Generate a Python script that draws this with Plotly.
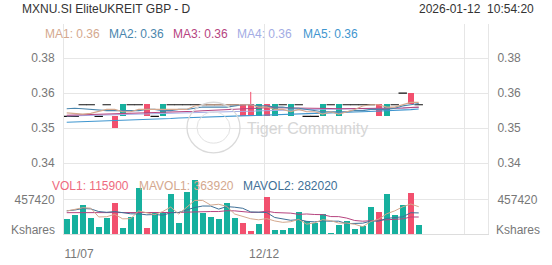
import plotly.graph_objects as go

# ---------------- data ----------------
dates = ["2025-11-07", "2025-11-10", "2025-11-11", "2025-11-12", "2025-11-13", "2025-11-14",
         "2025-11-17", "2025-11-18", "2025-11-19", "2025-11-20", "2025-11-21", "2025-11-24",
         "2025-11-25", "2025-11-26", "2025-11-27", "2025-11-28", "2025-12-01", "2025-12-02",
         "2025-12-03", "2025-12-04", "2025-12-05", "2025-12-08", "2025-12-09", "2025-12-10",
         "2025-12-11", "2025-12-12", "2025-12-15", "2025-12-16", "2025-12-17", "2025-12-18",
         "2025-12-19", "2025-12-22", "2025-12-23", "2025-12-24", "2025-12-26", "2025-12-29",
         "2025-12-30", "2025-12-31", "2026-01-02", "2026-01-05", "2026-01-06", "2026-01-07",
         "2026-01-08", "2026-01-09", "2026-01-12"]

opens = [0.355, 0.355, 0.36, 0.36, 0.355, 0.36, 0.35, 0.36, 0.36, 0.36, 0.355, 0.355, 0.36, 0.36, 0.36,
         0.36, 0.36, 0.36, 0.36, 0.36, 0.36, 0.36, 0.355, 0.355, 0.36, 0.355, 0.36, 0.36, 0.36, 0.36,
         0.355, 0.355, 0.36, 0.36, 0.36, 0.36, 0.36, 0.36, 0.36, 0.355, 0.36, 0.36, 0.365, 0.36, 0.36]
closes = [0.355, 0.355, 0.36, 0.36, 0.355, 0.36, 0.355, 0.355, 0.36, 0.36, 0.36, 0.355, 0.355, 0.36, 0.36,
          0.36, 0.36, 0.36, 0.36, 0.36, 0.36, 0.36, 0.36, 0.36, 0.355, 0.36, 0.355, 0.36, 0.355, 0.36,
          0.355, 0.355, 0.355, 0.36, 0.355, 0.36, 0.36, 0.36, 0.36, 0.36, 0.355, 0.36, 0.365, 0.365, 0.36]
highs = [0.355, 0.355, 0.36, 0.36, 0.355, 0.36, 0.355, 0.36, 0.36, 0.36, 0.36, 0.355, 0.36, 0.36, 0.36,
         0.36, 0.36, 0.36, 0.36, 0.36, 0.36, 0.36, 0.36, 0.3655, 0.36, 0.36, 0.36, 0.36, 0.36, 0.36,
         0.355, 0.355, 0.36, 0.36, 0.36, 0.36, 0.36, 0.36, 0.36, 0.36, 0.36, 0.36, 0.365, 0.365, 0.36]
lows = [0.355, 0.355, 0.36, 0.36, 0.355, 0.36, 0.35, 0.355, 0.36, 0.36, 0.355, 0.355, 0.355, 0.36, 0.36,
        0.36, 0.36, 0.36, 0.36, 0.36, 0.36, 0.36, 0.355, 0.355, 0.355, 0.355, 0.355, 0.36, 0.355, 0.36,
        0.355, 0.355, 0.355, 0.36, 0.355, 0.36, 0.36, 0.36, 0.36, 0.355, 0.355, 0.36, 0.365, 0.36, 0.36]

volumes = [201000, 256000, 381000, 214000, 95000, 214000, 410000, 86000, 231000, 605000,
           77000, 295000, 291000, 528000, 144000, 556000, 718000, 284000, 223000, 201000,
           413000, 214000, 150000, 45000, 133000, 492000, 60000, 60000, 86000, 287000,
           179000, 146000, 269000, 18000, 128000, 179000, 64000, 115000, 355000, 287000,
           534000, 252000, 381000, 543000, 115900]

ma1 = [0.3565, 0.3562, 0.356, 0.3563, 0.357, 0.358, 0.358, 0.357, 0.357, 0.358, 0.358, 0.358, 0.358,
       0.358, 0.358, 0.358, 0.3595, 0.36, 0.36, 0.36, 0.36, 0.36, 0.36, 0.36, 0.359, 0.359, 0.358, 0.358,
       0.357, 0.358, 0.357, 0.357, 0.356, 0.357, 0.356, 0.357, 0.358, 0.3595, 0.36, 0.36, 0.359, 0.359,
       0.36, 0.361, 0.361]
ma2 = [0.3583, 0.3585, 0.3583, 0.358, 0.3578, 0.3575, 0.3575, 0.3575, 0.3575, 0.3575, 0.358, 0.358,
       0.3575, 0.3575, 0.358, 0.358, 0.3585, 0.359, 0.359, 0.359, 0.359, 0.3595, 0.36, 0.36, 0.3595,
       0.3595, 0.359, 0.359, 0.3585, 0.3585, 0.358, 0.3575, 0.357, 0.357, 0.357, 0.357, 0.3575, 0.3575,
       0.358, 0.358, 0.358, 0.3585, 0.3595, 0.36, 0.3605]
ma3 = [0.3555, 0.3556, 0.3557, 0.3558, 0.3558, 0.3559, 0.356, 0.356, 0.3561, 0.3562, 0.3563, 0.3564,
       0.3565, 0.3567, 0.3569, 0.357, 0.3572, 0.3574, 0.3576, 0.3578, 0.358, 0.3582, 0.3584, 0.3585,
       0.3586, 0.3587, 0.3587, 0.3587, 0.3586, 0.3586, 0.3585, 0.3585, 0.3584, 0.3584, 0.3583, 0.3583,
       0.3583, 0.3583, 0.3583, 0.3584, 0.3584, 0.3585, 0.3586, 0.3588, 0.359]
ma4 = [0.3552, 0.3553, 0.3553, 0.3555, 0.3556, 0.3557, 0.3558, 0.3558, 0.3559, 0.3561, 0.3561, 0.3562,
       0.3563, 0.3565, 0.3565, 0.3566, 0.3568, 0.3568, 0.3569, 0.3571, 0.3571, 0.3572, 0.3574, 0.3574,
       0.3575, 0.3577, 0.3577, 0.3578, 0.3578, 0.3579, 0.358, 0.358, 0.3581, 0.3581, 0.3582, 0.3582,
       0.3583, 0.3583, 0.3584, 0.3584, 0.3585, 0.3585, 0.3586, 0.3587, 0.3588]
ma5 = [0.3525, 0.3526, 0.3527, 0.3529, 0.353, 0.3531, 0.3532, 0.3534, 0.3535, 0.3536, 0.3537, 0.3539,
       0.354, 0.3541, 0.3543, 0.3544, 0.3545, 0.3547, 0.3548, 0.3549, 0.355, 0.3552, 0.3553, 0.3554,
       0.3556, 0.3557, 0.3558, 0.3559, 0.356, 0.3561, 0.3562, 0.3563, 0.3564, 0.3566, 0.3567, 0.3568,
       0.3569, 0.357, 0.3571, 0.3572, 0.3574, 0.3575, 0.3577, 0.3579, 0.3582]

mavol1 = [307000, 330000, 350000, 345000, 229000, 232000, 263000, 204000, 207000, 309000, 282000,
          259000, 300000, 359000, 267000, 363000, 447000, 446000, 385000, 396000, 368000, 267000,
          240000, 205000, 191000, 207000, 176000, 158000, 166000, 197000, 134000, 152000, 193000,
          180000, 148000, 148000, 132000, 101000, 168000, 200000, 271000, 309000, 362000, 399000, 363920]
mavol2 = [310000, 320000, 340000, 335000, 300000, 290000, 300000, 280000, 270000, 269000, 257000,
          261000, 252000, 283000, 288000, 322000, 353000, 373000, 372000, 332000, 365000, 357000,
          343000, 295000, 294000, 287000, 222000, 199000, 185000, 194000, 171000, 164000, 176000,
          173000, 173000, 141000, 142000, 147000, 174000, 174000, 210000, 220000, 231000, 284000, 282020]
mavol3 = [285000, 285000, 288000, 288000, 285000, 283000, 285000, 283000, 282000, 282000, 280000,
          281000, 283000, 285000, 288000, 292000, 298000, 300000, 300000, 300000, 311000, 309000,
          297000, 289000, 291000, 305000, 287000, 286000, 279000, 263000, 268000, 261000, 259000,
          234000, 233000, 214000, 182000, 173000, 180000, 184000, 190000, 192000, 204000, 228000, 228000]

date_tick_labels = ["11/07", "12/12"]
price_ticks = [0.38, 0.365, 0.35, 0.335]
vol_ticks = [457420]

# ---------------- styling ----------------
W, H = 552, 265
def px(x): return x / W
def py(y): return 1 - y / H

RED = "#F2506E"
TEAL = "#16B09E"
GRID = "#E6E6E6"
AXT = "#777777"
C_MA1, C_MA2, C_MA3, C_MA4, C_MA5 = "#D4A88E", "#4A86AD", "#B6447F", "#A3ACE4", "#3F96CF"
C_MV2 = "#3E6F96"
FONT = "Liberation Sans, Arial, sans-serif"

n = len(dates)
xs = list(range(n))
GRID_OFF = -0.33
grid_pos = [GRID_OFF, 25 + GRID_OFF, 50 + GRID_OFF]
label_pos = [1.54, 25 + GRID_OFF]
XR = [-0.34, 52.66]

fig = go.Figure()

# candle bodies / doji / wicks
bx, bb, bh, bc = [], [], [], []
dx, dy = [], []
wx, wy = [], []
for i in xs:
    o, c, h, l = opens[i], closes[i], highs[i], lows[i]
    col = RED if c > o else TEAL
    if abs(c - o) < 1e-9:
        dx.append(i); dy.append(c)
    else:
        bx.append(i); bb.append(min(o, c)); bh.append(abs(c - o)); bc.append(col)
    if h > max(o, c) + 1e-9:
        wx += [i, i, None]; wy += [max(o, c), h, None]
    if l < min(o, c) - 1e-9:
        wx += [i, i, None]; wy += [l, min(o, c), None]

fig.add_trace(go.Scatter(x=wx, y=wy, mode="lines", line=dict(color=RED, width=1),
                         xaxis="x", yaxis="y", hoverinfo="skip", showlegend=False))
fig.add_trace(go.Bar(x=bx, y=bh, base=bb, marker=dict(color=bc, line=dict(width=0)), width=0.72,
                     xaxis="x", yaxis="y", showlegend=False))
fig.add_trace(go.Scatter(x=dx, y=dy, mode="markers",
                         marker=dict(symbol="line-ew", size=6, line=dict(color="#111111", width=1.1)),
                         xaxis="x", yaxis="y", showlegend=False))

for ma, col in [(ma5, C_MA5), (ma4, C_MA4), (ma3, C_MA3), (ma2, C_MA2), (ma1, C_MA1)]:
    fig.add_trace(go.Scatter(x=xs, y=ma, mode="lines", line=dict(color=col, width=1.1),
                             xaxis="x", yaxis="y", showlegend=False, hoverinfo="skip"))

# volume
vcol = [RED if closes[i] > opens[i] else TEAL for i in xs]
fig.add_trace(go.Bar(x=xs, y=volumes, marker=dict(color=vcol, line=dict(width=0)), width=0.72,
                     xaxis="x2", yaxis="y2", showlegend=False))
for mv, col in [(mavol3, C_MA3), (mavol2, C_MV2), (mavol1, C_MA1)]:
    fig.add_trace(go.Scatter(x=xs, y=mv, mode="lines", line=dict(color=col, width=1),
                             xaxis="x2", yaxis="y2", showlegend=False, hoverinfo="skip"))

# helper invisible traces for mirrored axes
fig.add_trace(go.Scatter(x=[0], y=[0.35], mode="markers", marker=dict(opacity=0), xaxis="x", yaxis="y3",
                         showlegend=False, hoverinfo="skip"))
fig.add_trace(go.Scatter(x=[0], y=[0], mode="markers", marker=dict(opacity=0), xaxis="x2", yaxis="y4",
                         showlegend=False, hoverinfo="skip"))
fig.add_trace(go.Scatter(x=[0], y=[0], mode="markers", marker=dict(opacity=0), xaxis="x3", yaxis="y2",
                         showlegend=False, hoverinfo="skip"))

PR = [0.335, 0.39446]
VR = [0, 938000]
XD = [px(64), px(488)]
PD = [py(167.5), py(25)]
VD = [py(240.7), py(167.5)]
tf = dict(family=FONT, size=12, color=AXT)
clear = "rgba(0,0,0,0)"

fig.update_layout(
    width=W, height=H, margin=dict(l=0, r=0, t=0, b=0),
    paper_bgcolor="white", plot_bgcolor="white", bargap=0, showlegend=False,
    font=dict(family=FONT),
    xaxis=dict(domain=XD, range=XR, anchor="y", tickvals=grid_pos, showticklabels=False, ticks="",
               showgrid=True, gridcolor=GRID, zeroline=False, showline=True, linecolor=GRID, linewidth=1),
    xaxis2=dict(domain=XD, range=XR, anchor="y2", tickvals=grid_pos, showticklabels=False, ticks="",
                showgrid=True, gridcolor=GRID, zeroline=False, showline=True, linecolor="#DDDDDD", linewidth=1),
    xaxis3=dict(domain=XD, range=XR, anchor="y2", overlaying="x2", tickvals=label_pos,
                ticktext=date_tick_labels, showgrid=False, zeroline=False, ticks="outside", ticklen=8,
                tickcolor=clear, tickfont=tf, side="bottom"),
    yaxis=dict(domain=PD, range=PR, anchor="x", tickvals=price_ticks, tickformat=".2f", showgrid=True,
               gridcolor=GRID, zeroline=False, showline=True, mirror=True, linecolor=GRID, ticks="outside",
               ticklen=6, tickcolor=clear, tickfont=tf),
    yaxis3=dict(range=PR, anchor="x", overlaying="y", side="right", tickvals=price_ticks, tickformat=".2f",
                showgrid=False, zeroline=False, ticks="outside", ticklen=6, tickcolor=clear, tickfont=tf),
    yaxis2=dict(domain=VD, range=VR, anchor="x2", tickvals=vol_ticks, tickformat="d", showgrid=True,
                gridcolor=GRID, zeroline=False, showline=True, mirror=True, linecolor=GRID, ticks="outside",
                ticklen=6, tickcolor=clear, tickfont=tf),
    yaxis4=dict(range=VR, anchor="x2", overlaying="y2", side="right", tickvals=vol_ticks, tickformat="d",
                showgrid=False, zeroline=False, ticks="outside", ticklen=6, tickcolor=clear, tickfont=tf),
)

# watermark
fig.add_shape(type="circle", xref="paper", yref="paper", x0=px(187), x1=px(240), y0=py(157), y1=py(105),
              line=dict(color="#DADADA", width=1.3), layer="above")
fig.add_shape(type="circle", xref="paper", yref="paper", x0=px(197), x1=px(230), y0=py(147), y1=py(115),
              line=dict(color="#E2E2E2", width=1), layer="above")
fig.add_annotation(x=px(245), y=py(132), xref="paper", yref="paper", text="Tiger Community",
                   showarrow=False, xanchor="left", yanchor="middle",
                   font=dict(size=16, color="#D6D6D6", family=FONT))

def label(x, y, text, color, anchor="left", size=12):
    fig.add_annotation(x=px(x), y=py(y), xref="paper", yref="paper", text=text, showarrow=False,
                       xanchor=anchor, yanchor="middle",
                       font=dict(size=size, color=color, family=FONT))

label(20, 9, "MXNU.SI EliteUKREIT GBP - D", "#333333")
label(536, 9, "2026-01-12  10:54:20", "#333333", anchor="right")
label(43, 35, "MA1: 0.36", C_MA1)
label(107, 35, "MA2: 0.36", C_MA2)
label(171, 35, "MA3: 0.36", C_MA3)
label(235, 35, "MA4: 0.36", C_MA4)
label(301, 35, "MA5: 0.36", C_MA5)
label(50, 191, "VOL1: 115900", "#EE6A7E")
label(137, 191, "MAVOL1: 363920", C_MA1)
label(241, 191, "MAVOL2: 282020", C_MV2)
label(57, 236, "Kshares", AXT, anchor="right")
label(494, 236, "Kshares", AXT, anchor="left")

fig.write_html("out.html")
